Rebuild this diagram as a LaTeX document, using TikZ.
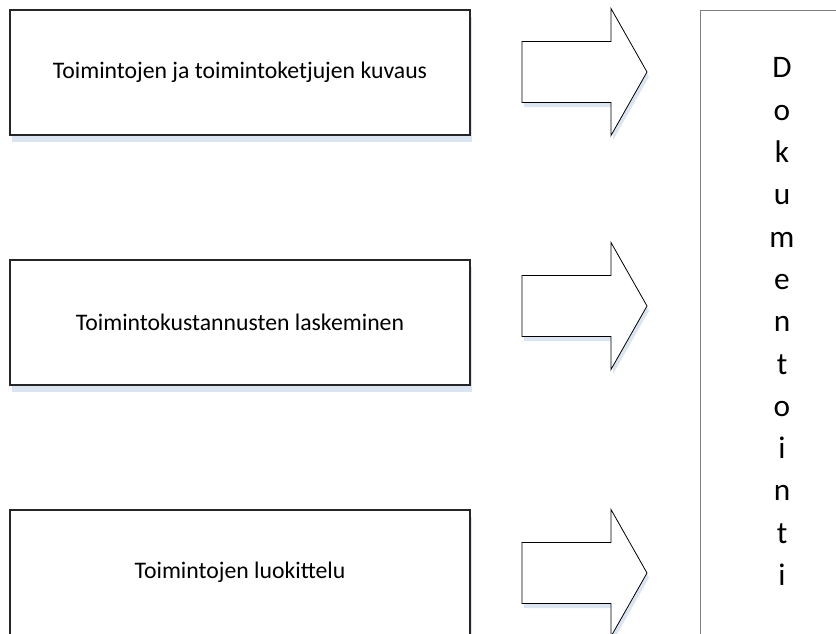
\documentclass[tikz,border=0pt]{standalone}
\usepackage{fontspec}
\setmainfont{Carlito}
\usetikzlibrary{shadows}
\definecolor{shade}{HTML}{DBE5F1}
\definecolor{edge}{HTML}{262626}
\definecolor{docedge}{HTML}{7F7F7F}

\begin{document}
\begin{tikzpicture}[x=0.75pt,y=-0.75pt,
    box/.style={draw=edge,fill=white,line width=0.8pt,minimum width=345pt,
                minimum height=93.75pt,inner sep=0pt,font=\fontsize{17.8}{21}\selectfont,
                drop shadow={shadow xshift=1.5pt,shadow yshift=-5.25pt,fill=shade,opacity=1}},
    blk/.style={draw=black,fill=white,line width=0.6pt,line join=miter,
                drop shadow={shadow xshift=1.5pt,shadow yshift=-3.5pt,fill=shade,opacity=1}},
    letter/.style={anchor=base,inner sep=0pt,font=\fontsize{23.5}{28}\selectfont}]
  \useasboundingbox (0,0) rectangle (836,634);
  % steps
  \node[box] (kuvaus) at (240,72.5) {Toimintojen ja toimintoketjujen kuvaus};
  \node[box] (kustannus) at (240,322.5) {Toimintokustannusten laskeminen};
  \node[box] (luokittelu) at (240,572.5) {Toimintojen luokittelu};

  % block arrows
  \foreach \y in {72,306,573}{
    \draw[blk] (522,\y-30.5) -- (611,\y-30.5) -- (611,\y-63.5) -- (647,\y)
      -- (611,\y+63.5) -- (611,\y+30.5) -- (522,\y+30.5) -- cycle;}

  % documentation column
  \node[draw=docedge,line width=0.8pt,anchor=north west,minimum width=150pt,
        minimum height=500pt] (doc) at (700,10) {};
  \foreach \c [count=\i from 0] in {D,o,k,u,m,e,n,t,o,i,n,t,i}
    \node[letter] (l\i) at (782,78+42.3*\i) {\c};
\end{tikzpicture}
\end{document}
